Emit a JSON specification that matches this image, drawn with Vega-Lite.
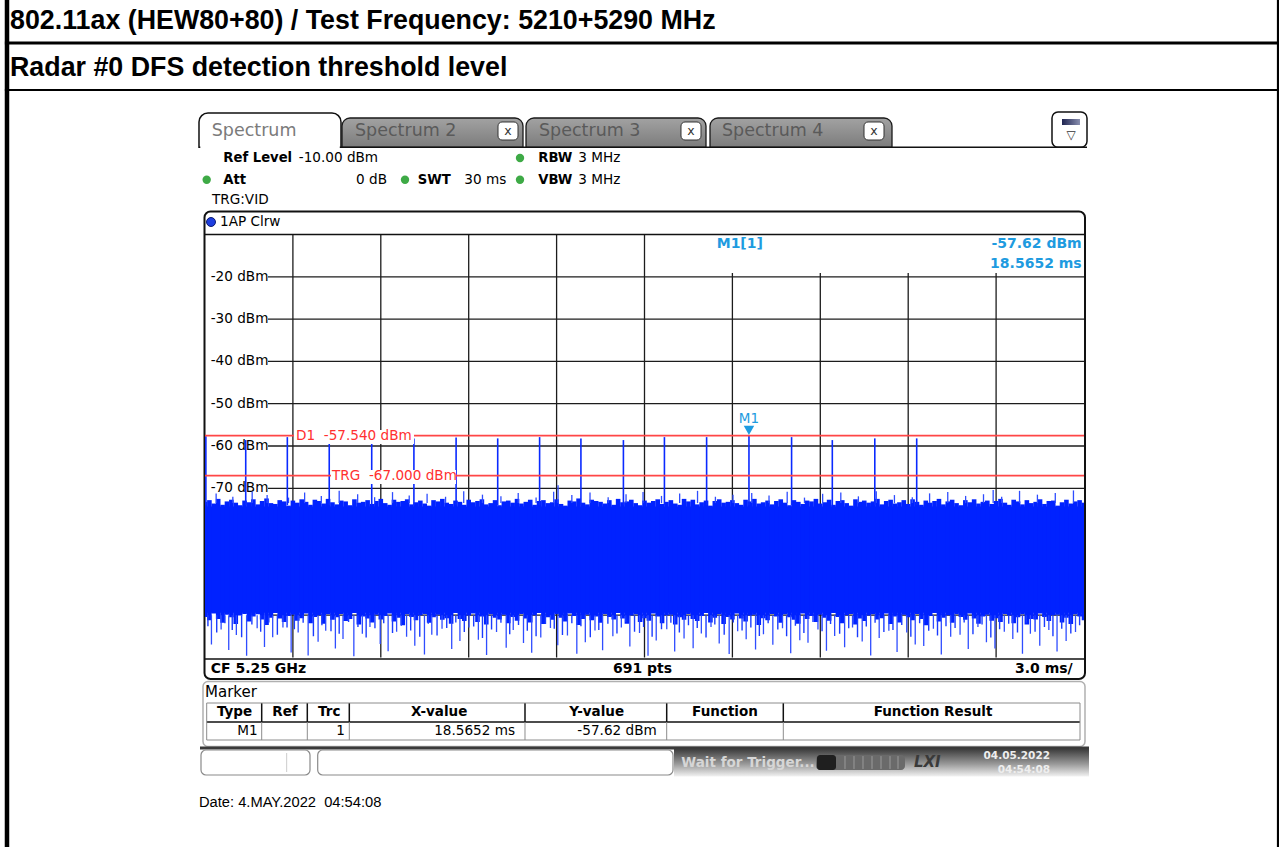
{
"$schema":"https://vega.github.io/schema/vega-lite/v6.json",
"width":879,"height":423,
"autosize":{"type":"none"},
"padding":{"left":205,"top":234.5,"right":195,"bottom":189.5},
"background":"white",
"config":{"view":{"stroke":null}},
"encoding":{
 "x":{"field":"t","type":"quantitative","scale":{"domain":[0,30],"nice":false,"zero":false},"axis":null},
 "y":{"field":"dbm","type":"quantitative","scale":{"domain":[-110,-10],"nice":false,"zero":false},"axis":null}
},
"datasets":{
"bord4":[{"t":-6.758,"dbm":45.44,"t2":-6.758,"dbm2":-154.8}],
"bord3":[{"t":-6.83,"dbm":35.272,"t2":36.66,"dbm2":35.272}],
"bord2":[{"t":36.621,"dbm":45.44,"t2":36.621,"dbm2":-154.8},{"t":-6.83,"dbm":24.161,"t2":36.66,"dbm2":24.161}],
"titles":[{"t":-6.655,"dbm":40.473,"label":"802.11ax (HEW80+80) / Test Frequency: 5210+5290 MHz"},{"t":-6.655,"dbm":29.362,"label":"Radar #0 DFS detection threshold level"}],
"greyTabs":[{"t":4.6758,"t2":10.8532,"dbm":17.541,"dbm2":10.615},{"t":10.9556,"t2":17.099,"dbm":17.541,"dbm2":10.615},{"t":17.2355,"t2":23.4471,"dbm":17.541,"dbm2":10.615}],
"activeTab":[{"t":-0.2048,"t2":4.6416,"dbm":18.723,"dbm2":10.615}],
"activeCover":[{"t":-0.16,"t2":4.6,"dbm":10.95,"dbm2":10.0}],
"closeBtns":[{"t":10.0,"t2":10.6826,"dbm":16.596,"dbm2":12.34},{"t":16.2457,"t2":16.9283,"dbm":16.596,"dbm2":12.34},{"t":22.4915,"t2":23.1741,"dbm":16.596,"dbm2":12.34}],
"closeX":[{"t":10.3413,"dbm":14.586,"label":"x"},{"t":16.587,"dbm":14.586,"label":"x"},{"t":22.8328,"dbm":14.586,"label":"x"}],
"iconBtn":[{"t":28.9078,"t2":30.1024,"dbm":18.96,"dbm2":10.615}],
"iconInner":[{"t":29.249,"t2":29.863,"dbm":17.305,"dbm2":15.887}],
"iconTri":[{"t":29.556,"dbm":13.5,"label":"▽"}],
"tabActiveText":[{"t":0.2287,"dbm":14.397,"label":"Spectrum"}],
"tabGreyText":[{"t":5.1195,"dbm":14.397,"label":"Spectrum 2"},{"t":11.3993,"dbm":14.397,"label":"Spectrum 3"},{"t":17.6451,"dbm":14.397,"label":"Spectrum 4"}],
"dots":[{"t":0.058,"dbm":2.955},{"t":6.8259,"dbm":2.955},{"t":10.7509,"dbm":8.085},{"t":10.7509,"dbm":2.955}],
"boldLeft":[{"t":0.6246,"dbm":8.085,"label":"Ref Level"},{"t":11.3754,"dbm":8.085,"label":"RBW"},{"t":0.6246,"dbm":2.955,"label":"Att"},{"t":7.2594,"dbm":2.955,"label":"SWT"},{"t":11.3754,"dbm":2.955,"label":"VBW"}],
"normLeft":[{"t":3.2,"dbm":8.085,"label":"-10.00 dBm"},{"t":12.7406,"dbm":8.085,"label":"3 MHz"},{"t":8.8498,"dbm":2.955,"label":"30 ms"},{"t":12.7406,"dbm":2.955,"label":"3 MHz"},{"t":0.2389,"dbm":-1.773,"label":"TRG:VID"},{"t":0.512,"dbm":-7.045,"label":"1AP Clrw"},{"t":0.1945,"dbm":-20,"label":"-20 dBm"},{"t":0.1945,"dbm":-30,"label":"-30 dBm"},{"t":0.1945,"dbm":-40,"label":"-40 dBm"},{"t":0.1945,"dbm":-50,"label":"-50 dBm"},{"t":0.1945,"dbm":-60,"label":"-60 dBm"},{"t":0.1945,"dbm":-70,"label":"-70 dBm"}],
"normRight":[{"t":6.2116,"dbm":2.955,"label":"0 dB"}],
"frame":[{"t":-0.017,"t2":30.034,"dbm":-4.563,"dbm2":-115.083}],
"hdrDot":[{"t":0.2048,"dbm":-7.045}],
"grid":[{"t":3,"dbm":-110,"t2":3,"dbm2":-10},{"t":6,"dbm":-110,"t2":6,"dbm2":-10},{"t":9,"dbm":-110,"t2":9,"dbm2":-10},{"t":12,"dbm":-110,"t2":12,"dbm2":-10},{"t":15,"dbm":-110,"t2":15,"dbm2":-10},{"t":18,"dbm":-110,"t2":18,"dbm2":-19.1},{"t":21,"dbm":-110,"t2":21,"dbm2":-19.1},{"t":24,"dbm":-110,"t2":24,"dbm2":-19.1},{"t":27,"dbm":-110,"t2":27,"dbm2":-19.1},
{"t":2.15,"dbm":-20,"t2":30,"dbm2":-20},{"t":2.15,"dbm":-30,"t2":30,"dbm2":-30},{"t":2.15,"dbm":-40,"t2":30,"dbm2":-40},{"t":2.15,"dbm":-50,"t2":30,"dbm2":-50},{"t":2.15,"dbm":-60,"t2":30,"dbm2":-60},{"t":2.15,"dbm":-70,"t2":30,"dbm2":-70},{"t":2.15,"dbm":-80,"t2":30,"dbm2":-80},{"t":2.15,"dbm":-90,"t2":30,"dbm2":-90},{"t":2.15,"dbm":-100,"t2":30,"dbm2":-100}],
"core":[{"t":0,"t2":30,"dbm":-74.3,"dbm2":-99.4}],
"cols":[
{"t":0,"dbm":-73.2,"dbm2":-100.4},{"t":0.15,"dbm":-72.8,"dbm2":-101.2},{"t":0.3,"dbm":-73.6,"dbm2":-99.6},{"t":0.45,"dbm":-72.5,"dbm2":-100.9},{"t":0.6,"dbm":-73.9,"dbm2":-101.8},{"t":0.75,"dbm":-73.1,"dbm2":-99.9},{"t":0.9,"dbm":-72.7,"dbm2":-100.5},{"t":1.05,"dbm":-73.4,"dbm2":-102.1},{"t":1.2,"dbm":-74.0,"dbm2":-100.1},{"t":1.35,"dbm":-72.9,"dbm2":-99.7},
{"t":1.5,"dbm":-73.3,"dbm2":-101.5},{"t":1.65,"dbm":-72.6,"dbm2":-100.3},{"t":1.8,"dbm":-73.8,"dbm2":-99.8},{"t":1.95,"dbm":-73.0,"dbm2":-101.0},{"t":2.1,"dbm":-72.4,"dbm2":-102.3},{"t":2.25,"dbm":-73.5,"dbm2":-100.6},{"t":2.4,"dbm":-73.7,"dbm2":-99.5},{"t":2.55,"dbm":-72.8,"dbm2":-100.8},{"t":2.7,"dbm":-73.1,"dbm2":-101.6},{"t":2.85,"dbm":-74.1,"dbm2":-100.2},
{"t":3.0,"dbm":-72.9,"dbm2":-99.9},{"t":3.15,"dbm":-73.4,"dbm2":-101.3},{"t":3.3,"dbm":-72.6,"dbm2":-100.7},{"t":3.45,"dbm":-73.2,"dbm2":-99.6},{"t":3.6,"dbm":-73.9,"dbm2":-101.9},{"t":3.75,"dbm":-72.7,"dbm2":-100.4},{"t":3.9,"dbm":-73.0,"dbm2":-100.0},{"t":4.05,"dbm":-73.6,"dbm2":-102.0},{"t":4.2,"dbm":-72.5,"dbm2":-99.8},{"t":4.35,"dbm":-73.3,"dbm2":-101.1},
{"t":4.5,"dbm":-73.8,"dbm2":-100.5},{"t":4.65,"dbm":-72.9,"dbm2":-99.7},{"t":4.8,"dbm":-73.1,"dbm2":-101.4},{"t":4.95,"dbm":-74.0,"dbm2":-100.9},{"t":5.1,"dbm":-72.6,"dbm2":-99.5},{"t":5.25,"dbm":-73.4,"dbm2":-102.2},{"t":5.4,"dbm":-73.2,"dbm2":-100.3},{"t":5.55,"dbm":-72.8,"dbm2":-100.8},{"t":5.7,"dbm":-73.7,"dbm2":-101.7},{"t":5.85,"dbm":-73.0,"dbm2":-99.9},
{"t":6.0,"dbm":-72.5,"dbm2":-101.0},{"t":6.15,"dbm":-73.5,"dbm2":-100.2},{"t":6.3,"dbm":-73.9,"dbm2":-99.6},{"t":6.45,"dbm":-72.7,"dbm2":-101.5},{"t":6.6,"dbm":-73.2,"dbm2":-100.6},{"t":6.75,"dbm":-73.0,"dbm2":-102.4},{"t":6.9,"dbm":-72.6,"dbm2":-99.8},{"t":7.05,"dbm":-73.8,"dbm2":-100.4},{"t":7.2,"dbm":-73.3,"dbm2":-101.2},{"t":7.35,"dbm":-72.9,"dbm2":-100.0},
{"t":7.5,"dbm":-73.6,"dbm2":-99.7},{"t":7.65,"dbm":-74.1,"dbm2":-101.8},{"t":7.8,"dbm":-72.8,"dbm2":-100.5},{"t":7.95,"dbm":-73.1,"dbm2":-99.9},{"t":8.1,"dbm":-72.5,"dbm2":-101.1},{"t":8.25,"dbm":-73.4,"dbm2":-100.7},{"t":8.4,"dbm":-73.7,"dbm2":-102.0},{"t":8.55,"dbm":-72.9,"dbm2":-99.5},{"t":8.7,"dbm":-73.2,"dbm2":-100.9},{"t":8.85,"dbm":-73.9,"dbm2":-101.4},
{"t":9.0,"dbm":-72.7,"dbm2":-100.1},{"t":9.15,"dbm":-73.3,"dbm2":-99.6},{"t":9.3,"dbm":-73.0,"dbm2":-101.6},{"t":9.45,"dbm":-72.6,"dbm2":-100.3},{"t":9.6,"dbm":-73.8,"dbm2":-102.2},{"t":9.75,"dbm":-73.5,"dbm2":-99.8},{"t":9.9,"dbm":-72.8,"dbm2":-100.6},{"t":10.05,"dbm":-74.0,"dbm2":-101.0},{"t":10.2,"dbm":-73.1,"dbm2":-99.9},{"t":10.35,"dbm":-72.9,"dbm2":-101.9},
{"t":10.5,"dbm":-73.4,"dbm2":-100.4},{"t":10.65,"dbm":-72.5,"dbm2":-101.3},{"t":10.8,"dbm":-73.6,"dbm2":-99.7},{"t":10.95,"dbm":-73.2,"dbm2":-100.8},{"t":11.1,"dbm":-72.7,"dbm2":-101.7},{"t":11.25,"dbm":-73.9,"dbm2":-100.0},{"t":11.4,"dbm":-73.0,"dbm2":-99.5},{"t":11.55,"dbm":-72.8,"dbm2":-102.1},{"t":11.7,"dbm":-73.5,"dbm2":-100.5},{"t":11.85,"dbm":-73.3,"dbm2":-101.1},
{"t":12.0,"dbm":-72.6,"dbm2":-99.8},{"t":12.15,"dbm":-73.7,"dbm2":-100.6},{"t":12.3,"dbm":-74.1,"dbm2":-101.5},{"t":12.45,"dbm":-72.9,"dbm2":-99.6},{"t":12.6,"dbm":-73.1,"dbm2":-100.2},{"t":12.75,"dbm":-72.4,"dbm2":-102.3},{"t":12.9,"dbm":-73.4,"dbm2":-100.9},{"t":13.05,"dbm":-73.8,"dbm2":-99.9},{"t":13.2,"dbm":-72.7,"dbm2":-101.2},{"t":13.35,"dbm":-73.0,"dbm2":-100.3},
{"t":13.5,"dbm":-73.2,"dbm2":-101.8},{"t":13.65,"dbm":-73.6,"dbm2":-99.7},{"t":13.8,"dbm":-72.8,"dbm2":-100.4},{"t":13.95,"dbm":-73.9,"dbm2":-101.0},{"t":14.1,"dbm":-72.5,"dbm2":-99.5},{"t":14.25,"dbm":-73.3,"dbm2":-100.8},{"t":14.4,"dbm":-73.1,"dbm2":-102.0},{"t":14.55,"dbm":-72.7,"dbm2":-100.1},{"t":14.7,"dbm":-73.5,"dbm2":-99.8},{"t":14.85,"dbm":-74.0,"dbm2":-101.6},
{"t":15.0,"dbm":-72.9,"dbm2":-100.7},{"t":15.15,"dbm":-73.4,"dbm2":-101.3},{"t":15.3,"dbm":-73.0,"dbm2":-99.6},{"t":15.45,"dbm":-72.6,"dbm2":-100.3},{"t":15.6,"dbm":-73.7,"dbm2":-101.9},{"t":15.75,"dbm":-73.2,"dbm2":-100.0},{"t":15.9,"dbm":-72.8,"dbm2":-99.9},{"t":16.05,"dbm":-73.6,"dbm2":-102.2},{"t":16.2,"dbm":-73.9,"dbm2":-100.5},{"t":16.35,"dbm":-72.5,"dbm2":-101.1},
{"t":16.5,"dbm":-73.1,"dbm2":-99.7},{"t":16.65,"dbm":-72.7,"dbm2":-100.9},{"t":16.8,"dbm":-73.8,"dbm2":-101.4},{"t":16.95,"dbm":-73.3,"dbm2":-100.2},{"t":17.1,"dbm":-72.9,"dbm2":-99.5},{"t":17.25,"dbm":-74.1,"dbm2":-101.7},{"t":17.4,"dbm":-73.0,"dbm2":-100.6},{"t":17.55,"dbm":-72.6,"dbm2":-99.8},{"t":17.7,"dbm":-73.4,"dbm2":-102.1},{"t":17.85,"dbm":-73.2,"dbm2":-100.4},
{"t":18.0,"dbm":-72.8,"dbm2":-101.0},{"t":18.15,"dbm":-73.5,"dbm2":-99.6},{"t":18.3,"dbm":-73.9,"dbm2":-100.8},{"t":18.45,"dbm":-72.7,"dbm2":-101.5},{"t":18.6,"dbm":-73.1,"dbm2":-100.1},{"t":18.75,"dbm":-72.5,"dbm2":-99.9},{"t":18.9,"dbm":-73.6,"dbm2":-102.3},{"t":19.05,"dbm":-73.3,"dbm2":-100.7},{"t":19.2,"dbm":-72.9,"dbm2":-101.2},{"t":19.35,"dbm":-73.8,"dbm2":-99.7},
{"t":19.5,"dbm":-73.0,"dbm2":-100.3},{"t":19.65,"dbm":-72.6,"dbm2":-101.8},{"t":19.8,"dbm":-73.4,"dbm2":-99.8},{"t":19.95,"dbm":-74.0,"dbm2":-100.5},{"t":20.1,"dbm":-72.8,"dbm2":-101.1},{"t":20.25,"dbm":-73.2,"dbm2":-102.0},{"t":20.4,"dbm":-73.7,"dbm2":-99.6},{"t":20.55,"dbm":-72.9,"dbm2":-100.9},{"t":20.7,"dbm":-73.1,"dbm2":-100.2},{"t":20.85,"dbm":-72.5,"dbm2":-101.6},
{"t":21.0,"dbm":-73.6,"dbm2":-99.9},{"t":21.15,"dbm":-73.3,"dbm2":-100.6},{"t":21.3,"dbm":-72.7,"dbm2":-101.3},{"t":21.45,"dbm":-73.9,"dbm2":-99.5},{"t":21.6,"dbm":-73.0,"dbm2":-100.4},{"t":21.75,"dbm":-72.8,"dbm2":-101.9},{"t":21.9,"dbm":-73.5,"dbm2":-100.0},{"t":22.05,"dbm":-74.1,"dbm2":-99.7},{"t":22.2,"dbm":-72.6,"dbm2":-102.2},{"t":22.35,"dbm":-73.2,"dbm2":-100.8},
{"t":22.5,"dbm":-72.9,"dbm2":-101.4},{"t":22.65,"dbm":-73.4,"dbm2":-100.1},{"t":22.8,"dbm":-73.1,"dbm2":-99.8},{"t":22.95,"dbm":-72.5,"dbm2":-101.0},{"t":23.1,"dbm":-73.8,"dbm2":-100.7},{"t":23.25,"dbm":-73.0,"dbm2":-99.6},{"t":23.4,"dbm":-72.7,"dbm2":-102.1},{"t":23.55,"dbm":-73.6,"dbm2":-100.3},{"t":23.7,"dbm":-73.3,"dbm2":-101.7},{"t":23.85,"dbm":-72.8,"dbm2":-99.9},
{"t":24.0,"dbm":-73.7,"dbm2":-100.5},{"t":24.15,"dbm":-72.6,"dbm2":-101.2},{"t":24.3,"dbm":-73.2,"dbm2":-99.7},{"t":24.45,"dbm":-73.9,"dbm2":-100.9},{"t":24.6,"dbm":-72.9,"dbm2":-102.4},{"t":24.75,"dbm":-73.4,"dbm2":-100.2},{"t":24.9,"dbm":-73.0,"dbm2":-99.5},{"t":25.05,"dbm":-72.5,"dbm2":-101.5},{"t":25.2,"dbm":-73.8,"dbm2":-100.6},{"t":25.35,"dbm":-73.1,"dbm2":-100.0},
{"t":25.5,"dbm":-72.7,"dbm2":-101.8},{"t":25.65,"dbm":-73.5,"dbm2":-99.8},{"t":25.8,"dbm":-74.0,"dbm2":-100.4},{"t":25.95,"dbm":-72.8,"dbm2":-101.1},{"t":26.1,"dbm":-73.3,"dbm2":-99.6},{"t":26.25,"dbm":-72.6,"dbm2":-100.8},{"t":26.4,"dbm":-73.6,"dbm2":-102.0},{"t":26.55,"dbm":-73.2,"dbm2":-100.3},{"t":26.7,"dbm":-72.9,"dbm2":-99.9},{"t":26.85,"dbm":-73.7,"dbm2":-101.3},
{"t":27.0,"dbm":-73.0,"dbm2":-100.7},{"t":27.15,"dbm":-72.5,"dbm2":-101.6},{"t":27.3,"dbm":-73.4,"dbm2":-99.7},{"t":27.45,"dbm":-73.9,"dbm2":-100.1},{"t":27.6,"dbm":-72.7,"dbm2":-101.9},{"t":27.75,"dbm":-73.1,"dbm2":-100.5},{"t":27.9,"dbm":-73.8,"dbm2":-99.8},{"t":28.05,"dbm":-72.8,"dbm2":-102.2},{"t":28.2,"dbm":-73.5,"dbm2":-100.9},{"t":28.35,"dbm":-73.2,"dbm2":-101.0},
{"t":28.5,"dbm":-72.6,"dbm2":-99.6},{"t":28.65,"dbm":-73.7,"dbm2":-100.4},{"t":28.8,"dbm":-73.0,"dbm2":-101.4},{"t":28.95,"dbm":-72.9,"dbm2":-100.0},{"t":29.1,"dbm":-74.1,"dbm2":-99.9},{"t":29.25,"dbm":-73.3,"dbm2":-101.7},{"t":29.4,"dbm":-72.7,"dbm2":-100.6},{"t":29.55,"dbm":-73.6,"dbm2":-102.1},{"t":29.7,"dbm":-73.1,"dbm2":-99.8},{"t":29.85,"dbm":-72.8,"dbm2":-100.3},
{"t":30.0,"dbm":-73.4,"dbm2":-101.2}],
"deep":[
{"t":0.22,"dbm":-106.9},{"t":0.55,"dbm":-103.4},{"t":0.81,"dbm":-108.2},{"t":1.07,"dbm":-104.7},{"t":1.42,"dbm":-109.6},{"t":1.78,"dbm":-103.1},{"t":2.03,"dbm":-107.5},{"t":2.31,"dbm":-105.2},{"t":2.66,"dbm":-102.9},{"t":2.94,"dbm":-108.8},
{"t":3.18,"dbm":-104.1},{"t":3.52,"dbm":-109.5},{"t":3.86,"dbm":-106.3},{"t":4.12,"dbm":-103.7},{"t":4.45,"dbm":-107.9},{"t":4.71,"dbm":-105.6},{"t":5.08,"dbm":-109.7},{"t":5.37,"dbm":-104.4},{"t":5.63,"dbm":-102.8},{"t":5.98,"dbm":-106.8},
{"t":6.25,"dbm":-108.5},{"t":6.54,"dbm":-103.9},{"t":6.88,"dbm":-105.1},{"t":7.16,"dbm":-107.2},{"t":7.49,"dbm":-109.3},{"t":7.74,"dbm":-104.6},{"t":8.09,"dbm":-103.2},{"t":8.42,"dbm":-108.0},{"t":8.7,"dbm":-106.1},{"t":9.01,"dbm":-102.9},
{"t":9.33,"dbm":-105.8},{"t":9.61,"dbm":-109.4},{"t":9.95,"dbm":-104.0},{"t":10.28,"dbm":-107.7},{"t":10.52,"dbm":-103.5},{"t":10.87,"dbm":-106.6},{"t":11.15,"dbm":-108.9},{"t":11.46,"dbm":-105.3},{"t":11.79,"dbm":-103.0},{"t":12.04,"dbm":-107.1},
{"t":12.37,"dbm":-104.8},{"t":12.69,"dbm":-109.1},{"t":12.98,"dbm":-106.4},{"t":13.31,"dbm":-103.6},{"t":13.57,"dbm":-108.3},{"t":13.92,"dbm":-105.0},{"t":14.21,"dbm":-102.9},{"t":14.5,"dbm":-107.4},{"t":14.83,"dbm":-104.2},{"t":15.12,"dbm":-109.6},
{"t":15.4,"dbm":-106.0},{"t":15.76,"dbm":-103.3},{"t":16.03,"dbm":-108.6},{"t":16.35,"dbm":-105.5},{"t":16.66,"dbm":-107.8},{"t":16.94,"dbm":-104.3},{"t":17.27,"dbm":-102.8},{"t":17.55,"dbm":-106.7},{"t":17.89,"dbm":-109.2},{"t":18.18,"dbm":-103.8},
{"t":18.47,"dbm":-105.7},{"t":18.79,"dbm":-108.1},{"t":19.06,"dbm":-104.5},{"t":19.38,"dbm":-107.0},{"t":19.71,"dbm":-103.1},{"t":19.99,"dbm":-109.0},{"t":20.3,"dbm":-105.9},{"t":20.58,"dbm":-106.5},{"t":20.92,"dbm":-103.4},{"t":21.21,"dbm":-108.4},
{"t":21.49,"dbm":-104.9},{"t":21.83,"dbm":-107.6},{"t":22.1,"dbm":-102.9},{"t":22.43,"dbm":-106.2},{"t":22.72,"dbm":-109.5},{"t":23.01,"dbm":-105.4},{"t":23.34,"dbm":-103.7},{"t":23.62,"dbm":-108.7},{"t":23.95,"dbm":-104.1},{"t":24.24,"dbm":-106.9},
{"t":24.53,"dbm":-107.3},{"t":24.86,"dbm":-103.2},{"t":25.13,"dbm":-109.3},{"t":25.45,"dbm":-105.1},{"t":25.77,"dbm":-104.6},{"t":26.05,"dbm":-108.0},{"t":26.38,"dbm":-102.8},{"t":26.67,"dbm":-106.4},{"t":26.96,"dbm":-107.9},{"t":27.28,"dbm":-103.9},
{"t":27.57,"dbm":-105.6},{"t":27.9,"dbm":-109.1},{"t":28.17,"dbm":-104.4},{"t":28.49,"dbm":-107.2},{"t":28.8,"dbm":-103.5},{"t":29.08,"dbm":-108.6},{"t":29.39,"dbm":-106.1},{"t":29.71,"dbm":-104.0}],
"mid":[
{"t":0.1,"dbm":-102.6},{"t":0.4,"dbm":-104.1},{"t":0.68,"dbm":-101.9},{"t":0.93,"dbm":-103.5},{"t":1.25,"dbm":-105.2},{"t":1.6,"dbm":-102.2},{"t":1.9,"dbm":-103.9},{"t":2.18,"dbm":-101.7},{"t":2.47,"dbm":-104.6},{"t":2.8,"dbm":-102.9},
{"t":3.05,"dbm":-103.3},{"t":3.35,"dbm":-101.8},{"t":3.7,"dbm":-105.0},{"t":3.99,"dbm":-102.4},{"t":4.3,"dbm":-103.8},{"t":4.58,"dbm":-104.4},{"t":4.9,"dbm":-101.6},{"t":5.22,"dbm":-102.8},{"t":5.5,"dbm":-105.3},{"t":5.8,"dbm":-103.1},
{"t":6.1,"dbm":-101.9},{"t":6.4,"dbm":-104.2},{"t":6.7,"dbm":-102.5},{"t":7.02,"dbm":-103.6},{"t":7.33,"dbm":-105.1},{"t":7.62,"dbm":-102.0},{"t":7.92,"dbm":-104.8},{"t":8.25,"dbm":-103.0},{"t":8.56,"dbm":-101.7},{"t":8.85,"dbm":-104.0},
{"t":9.17,"dbm":-102.7},{"t":9.47,"dbm":-105.4},{"t":9.78,"dbm":-103.4},{"t":10.1,"dbm":-101.8},{"t":10.4,"dbm":-104.5},{"t":10.7,"dbm":-102.3},{"t":11.0,"dbm":-103.7},{"t":11.3,"dbm":-105.0},{"t":11.62,"dbm":-102.1},{"t":11.92,"dbm":-103.2},
{"t":12.2,"dbm":-104.7},{"t":12.52,"dbm":-101.9},{"t":12.83,"dbm":-102.6},{"t":13.15,"dbm":-105.2},{"t":13.44,"dbm":-103.5},{"t":13.75,"dbm":-102.0},{"t":14.06,"dbm":-104.3},{"t":14.36,"dbm":-101.6},{"t":14.66,"dbm":-103.9},{"t":14.97,"dbm":-102.8},
{"t":15.26,"dbm":-105.1},{"t":15.58,"dbm":-103.3},{"t":15.9,"dbm":-101.8},{"t":16.19,"dbm":-104.1},{"t":16.5,"dbm":-102.4},{"t":16.8,"dbm":-103.0},{"t":17.1,"dbm":-105.3},{"t":17.4,"dbm":-102.2},{"t":17.72,"dbm":-104.6},{"t":18.03,"dbm":-101.7},
{"t":18.33,"dbm":-103.6},{"t":18.63,"dbm":-102.9},{"t":18.92,"dbm":-104.9},{"t":19.22,"dbm":-101.9},{"t":19.55,"dbm":-103.4},{"t":19.85,"dbm":-105.0},{"t":20.15,"dbm":-102.5},{"t":20.44,"dbm":-104.2},{"t":20.75,"dbm":-101.6},{"t":21.06,"dbm":-103.8},
{"t":21.35,"dbm":-102.1},{"t":21.66,"dbm":-104.4},{"t":21.97,"dbm":-103.1},{"t":22.27,"dbm":-105.2},{"t":22.57,"dbm":-102.7},{"t":22.87,"dbm":-101.8},{"t":23.17,"dbm":-104.0},{"t":23.48,"dbm":-103.5},{"t":23.78,"dbm":-102.3},{"t":24.09,"dbm":-105.1},
{"t":24.39,"dbm":-101.9},{"t":24.7,"dbm":-103.7},{"t":25.0,"dbm":-104.8},{"t":25.29,"dbm":-102.6},{"t":25.6,"dbm":-103.0},{"t":25.91,"dbm":-101.7},{"t":26.21,"dbm":-104.5},{"t":26.52,"dbm":-102.2},{"t":26.82,"dbm":-105.3},{"t":27.12,"dbm":-103.3},
{"t":27.43,"dbm":-102.0},{"t":27.73,"dbm":-104.1},{"t":28.03,"dbm":-101.8},{"t":28.33,"dbm":-103.9},{"t":28.65,"dbm":-102.8},{"t":28.94,"dbm":-105.0},{"t":29.24,"dbm":-103.2},{"t":29.55,"dbm":-104.3},{"t":29.85,"dbm":-102.4}],
"up":[
{"t":0.38,"dbm":-71.2},{"t":0.95,"dbm":-72.0},{"t":1.61,"dbm":-70.8},{"t":2.12,"dbm":-71.6},{"t":2.85,"dbm":-72.2},{"t":3.4,"dbm":-71.0},{"t":3.97,"dbm":-71.8},{"t":4.58,"dbm":-70.6},{"t":5.21,"dbm":-71.4},{"t":5.79,"dbm":-72.1},
{"t":6.4,"dbm":-70.9},{"t":6.97,"dbm":-71.7},{"t":7.58,"dbm":-71.3},{"t":8.21,"dbm":-72.0},{"t":8.83,"dbm":-70.7},{"t":9.47,"dbm":-71.5},{"t":10.1,"dbm":-71.9},{"t":10.69,"dbm":-71.1},{"t":11.3,"dbm":-72.2},{"t":11.9,"dbm":-70.8},
{"t":12.05,"dbm":-69.3},{"t":12.52,"dbm":-71.6},{"t":13.14,"dbm":-71.0},{"t":13.76,"dbm":-72.1},{"t":14.37,"dbm":-71.4},{"t":14.95,"dbm":-70.9},{"t":15.58,"dbm":-71.8},{"t":16.2,"dbm":-71.2},{"t":16.81,"dbm":-70.6},{"t":17.42,"dbm":-72.0},
{"t":18.02,"dbm":-71.5},{"t":18.66,"dbm":-71.1},{"t":19.25,"dbm":-71.7},{"t":19.87,"dbm":-70.8},{"t":20.46,"dbm":-72.2},{"t":21.08,"dbm":-71.3},{"t":21.7,"dbm":-71.0},{"t":22.3,"dbm":-71.9},{"t":22.91,"dbm":-70.7},{"t":23.53,"dbm":-71.6},
{"t":24.14,"dbm":-72.1},{"t":24.73,"dbm":-71.2},{"t":25.35,"dbm":-70.9},{"t":25.96,"dbm":-71.8},{"t":26.57,"dbm":-71.4},{"t":26.9,"dbm":-70.4},{"t":27.19,"dbm":-72.0},{"t":27.8,"dbm":-70.6},{"t":28.41,"dbm":-71.5},{"t":29.02,"dbm":-71.1},{"t":29.64,"dbm":-70.5}],
"pulses":[
{"t":0.03,"dbm":-57.7},{"t":1.39,"dbm":-58.6},{"t":2.81,"dbm":-57.9},{"t":4.24,"dbm":-59.4},{"t":5.69,"dbm":-59.4},{"t":7.13,"dbm":-58.2},{"t":8.57,"dbm":-58.0},{"t":9.99,"dbm":-58.2},{"t":11.42,"dbm":-57.9},{"t":12.83,"dbm":-58.2},
{"t":14.28,"dbm":-58.6},{"t":15.68,"dbm":-57.9},{"t":17.12,"dbm":-57.9},{"t":18.5652,"dbm":-57.62},{"t":20.02,"dbm":-57.9},{"t":21.41,"dbm":-58.6},{"t":22.86,"dbm":-58.2},{"t":24.29,"dbm":-58.2}],
"redLines":[{"t":0,"dbm":-57.54,"t2":30,"dbm2":-57.54},{"t":0,"dbm":-67,"t2":30,"dbm2":-67}],
"whiteBoxes":[{"t":3.0375,"t2":7.1331,"dbm":-56.217,"dbm2":-59.527},{"t":4.3003,"t2":8.5666,"dbm":-65.674,"dbm2":-68.983}],
"redTexts":[{"t":3.1058,"dbm":-57.6,"label":"D1\u00a0 -57.540 dBm"},{"t":4.3345,"dbm":-67.05,"label":"TRG\u00a0 -67.000 dBm"}],
"mTri":[{"t":18.5652,"dbm":-56.3}],
"mLabel":[{"t":18.5652,"dbm":-53.735,"label":"M1"}],
"mInfoLeft":[{"t":17.464,"dbm":-12.246,"label":"M1[1]"}],
"mInfoRight":[{"t":29.921,"dbm":-12.246,"label":"-57.62 dBm"},{"t":29.921,"dbm":-16.974,"label":"18.5652 ms"}],
"black15":[{"t":4.6416,"dbm":10.615,"t2":30.1024,"dbm2":10.615},{"t":-0.017,"dbm":-10,"t2":30.034,"dbm2":-10},{"t":-0.017,"dbm":-110.355,"t2":30.034,"dbm2":-110.355},{"t":0.058,"dbm":-125.248,"t2":29.8635,"dbm2":-125.248},
{"t":1.935,"dbm":-120.757,"t2":1.935,"dbm2":-125.248},{"t":3.4915,"dbm":-120.757,"t2":3.4915,"dbm2":-125.248},{"t":4.9249,"dbm":-120.757,"t2":4.9249,"dbm2":-125.248},{"t":10.9215,"dbm":-120.757,"t2":10.9215,"dbm2":-125.248},{"t":15.7577,"dbm":-120.757,"t2":15.7577,"dbm2":-125.248},{"t":19.7372,"dbm":-120.757,"t2":19.7372,"dbm2":-125.248}],
"footLeft":[{"t":0.1945,"dbm":-112.719,"label":"CF 5.25 GHz"}],
"footCenter":[{"t":14.932,"dbm":-112.719,"label":"691 pts"}],
"footRight":[{"t":29.615,"dbm":-112.719,"label":"3.0 ms/"}],
"mkBox":[{"t":-0.0683,"t2":30.034,"dbm":-115.674,"dbm2":-131.04}],
"markerTitle":[{"t":0.0,"dbm":-118.156,"label":"Marker"}],
"greyLines":[{"t":0.058,"dbm":-120.757,"t2":29.8635,"dbm2":-120.757},{"t":0.058,"dbm":-129.504,"t2":29.8635,"dbm2":-129.504},{"t":0.058,"dbm":-120.757,"t2":0.058,"dbm2":-129.504},{"t":29.8635,"dbm":-120.757,"t2":29.8635,"dbm2":-129.504},
{"t":1.935,"dbm":-125.248,"t2":1.935,"dbm2":-129.504},{"t":3.4915,"dbm":-125.248,"t2":3.4915,"dbm2":-129.504},{"t":4.9249,"dbm":-125.248,"t2":4.9249,"dbm2":-129.504},{"t":10.9215,"dbm":-125.248,"t2":10.9215,"dbm2":-129.504},{"t":15.7577,"dbm":-125.248,"t2":15.7577,"dbm2":-129.504},{"t":19.7372,"dbm":-125.248,"t2":19.7372,"dbm2":-129.504}],
"th":[{"t":1.0068,"dbm":-123.0,"label":"Type"},{"t":2.7304,"dbm":-123.0,"label":"Ref"},{"t":4.2389,"dbm":-123.0,"label":"Trc"},{"t":7.9932,"dbm":-123.0,"label":"X-value"},{"t":13.3686,"dbm":-123.0,"label":"Y-value"},{"t":17.7474,"dbm":-123.0,"label":"Function"},{"t":24.8464,"dbm":-123.0,"label":"Function Result"}],
"td":[{"t":1.7986,"dbm":-127.376,"label":"M1"},{"t":4.7782,"dbm":-127.376,"label":"1"},{"t":10.5802,"dbm":-127.376,"label":"18.5652 ms"},{"t":15.4164,"dbm":-127.376,"label":"-57.62 dBm"}],
"darkLine":[{"t":-0.1706,"t2":30.1706,"dbm":-131.04,"dbm2":-131.749}],
"statusGrad":[{"t":16.0068,"t2":30.1706,"dbm":-131.631,"dbm2":-138.132}],
"statusBoxes":[{"t":-0.1365,"t2":3.5836,"dbm":-131.868,"dbm2":-137.778},{"t":3.8464,"t2":15.9727,"dbm":-131.868,"dbm2":-137.778}],
"statusDivider":[{"t":2.7872,"dbm":-132.577,"t2":2.7872,"dbm2":-137.069}],
"progress":[{"t":20.853,"t2":23.8908,"dbm":-133.05,"dbm2":-136.596}],
"progressDark":[{"t":20.8874,"t2":21.5358,"dbm":-133.05,"dbm2":-136.596}],
"progressSeg":[{"t":21.843,"dbm":-133.3,"t2":21.843,"dbm2":-136.35},{"t":22.15,"dbm":-133.3,"t2":22.15,"dbm2":-136.35},{"t":22.457,"dbm":-133.3,"t2":22.457,"dbm2":-136.35},{"t":22.765,"dbm":-133.3,"t2":22.765,"dbm2":-136.35},{"t":23.072,"dbm":-133.3,"t2":23.072,"dbm2":-136.35},{"t":23.379,"dbm":-133.3,"t2":23.379,"dbm2":-136.35},{"t":23.652,"dbm":-133.3,"t2":23.652,"dbm2":-136.35}],
"waitText":[{"t":16.2571,"dbm":-134.87,"label":"Wait for Trigger..."}],
"lxi":[{"t":24.198,"dbm":-134.704,"label":"LXI"}],
"stDate":[{"t":28.8396,"dbm":-133.404,"label":"04.05.2022"},{"t":28.8396,"dbm":-136.478,"label":"04:54:08"}],
"dateText":[{"t":-0.2048,"dbm":-144.468,"label":"Date: 4.MAY.2022\u00a0 04:54:08"}]
},
"layer":[
{"data":{"name":"bord4"},"mark":{"type":"rule","color":"#000000","strokeWidth":4.5},"encoding":{"x2":{"field":"t2"},"y2":{"field":"dbm2"}}},
{"data":{"name":"bord3"},"mark":{"type":"rule","color":"#000000","strokeWidth":3},"encoding":{"x2":{"field":"t2"},"y2":{"field":"dbm2"}}},
{"data":{"name":"bord2"},"mark":{"type":"rule","color":"#000000","strokeWidth":2.2},"encoding":{"x2":{"field":"t2"},"y2":{"field":"dbm2"}}},
{"data":{"name":"titles"},"mark":{"type":"text","align":"left","baseline":"middle","font":"Liberation Sans","fontWeight":"bold","fontSize":26.8,"color":"#000000"},"encoding":{"text":{"field":"label"}}},
{"data":{"name":"greyTabs"},"mark":{"type":"rect","fill":{"gradient":"linear","x1":0,"y1":0,"x2":0,"y2":1,"stops":[{"offset":0,"color":"#a2a2a2"},{"offset":1,"color":"#7c7c7c"}]},"stroke":"#1a1a1a","strokeWidth":1.3,"cornerRadiusTopLeft":8,"cornerRadiusTopRight":8},"encoding":{"x2":{"field":"t2"},"y2":{"field":"dbm2"}}},
{"data":{"name":"activeTab"},"mark":{"type":"rect","fill":"#ffffff","stroke":"#111111","strokeWidth":1.5,"cornerRadiusTopLeft":9,"cornerRadiusTopRight":9},"encoding":{"x2":{"field":"t2"},"y2":{"field":"dbm2"}}},
{"data":{"name":"activeCover"},"mark":{"type":"rect","fill":"#ffffff"},"encoding":{"x2":{"field":"t2"},"y2":{"field":"dbm2"}}},
{"data":{"name":"closeBtns"},"mark":{"type":"rect","fill":"#ffffff","stroke":"#333333","strokeWidth":1,"cornerRadius":4},"encoding":{"x2":{"field":"t2"},"y2":{"field":"dbm2"}}},
{"data":{"name":"iconBtn"},"mark":{"type":"rect","fill":"#ffffff","stroke":"#111111","strokeWidth":1.5,"cornerRadius":6},"encoding":{"x2":{"field":"t2"},"y2":{"field":"dbm2"}}},
{"data":{"name":"iconInner"},"mark":{"type":"rect","fill":{"gradient":"linear","x1":0,"y1":0,"x2":1,"y2":0,"stops":[{"offset":0,"color":"#1e2450"},{"offset":1,"color":"#8a90b0"}]}},"encoding":{"x2":{"field":"t2"},"y2":{"field":"dbm2"}}},
{"data":{"name":"iconTri"},"mark":{"type":"text","align":"center","baseline":"middle","font":"DejaVu Sans","fontSize":12,"color":"#333333"},"encoding":{"text":{"field":"label"}}},
{"data":{"name":"closeX"},"mark":{"type":"text","align":"center","baseline":"middle","font":"DejaVu Sans","fontSize":12.5,"color":"#333333"},"encoding":{"text":{"field":"label"}}},
{"data":{"name":"tabActiveText"},"mark":{"type":"text","align":"left","baseline":"middle","font":"DejaVu Sans","fontSize":17.5,"color":"#7b7b7b"},"encoding":{"text":{"field":"label"}}},
{"data":{"name":"tabGreyText"},"mark":{"type":"text","align":"left","baseline":"middle","font":"DejaVu Sans","fontSize":17.5,"color":"#5a5a5a"},"encoding":{"text":{"field":"label"}}},
{"data":{"name":"dots"},"mark":{"type":"point","shape":"circle","filled":true,"size":70,"color":"#3eaa46","opacity":1},"encoding":{}},
{"data":{"name":"boldLeft"},"mark":{"type":"text","align":"left","baseline":"middle","font":"DejaVu Sans","fontWeight":"bold","fontSize":13.2,"color":"#000000"},"encoding":{"text":{"field":"label"}}},
{"data":{"name":"normRight"},"mark":{"type":"text","align":"right","baseline":"middle","font":"DejaVu Sans","fontSize":13.6,"color":"#000000"},"encoding":{"text":{"field":"label"}}},
{"data":{"name":"frame"},"mark":{"type":"rect","filled":false,"color":"#111111","strokeWidth":2,"cornerRadius":6},"encoding":{"x2":{"field":"t2"},"y2":{"field":"dbm2"}}},
{"data":{"name":"hdrDot"},"mark":{"type":"point","shape":"circle","filled":true,"size":80,"color":"#1d3ee0","stroke":"#0a1a70","strokeWidth":1,"opacity":1},"encoding":{}},
{"data":{"name":"grid"},"mark":{"type":"rule","color":"#1c1c1c","strokeWidth":1.3},"encoding":{"x2":{"field":"t2"},"y2":{"field":"dbm2"}}},
{"data":{"name":"normLeft"},"mark":{"type":"text","align":"left","baseline":"middle","font":"DejaVu Sans","fontSize":13.6,"color":"#000000"},"encoding":{"text":{"field":"label"}}},
{"data":{"name":"core"},"mark":{"type":"rect","color":"#0022ff","clip":true},"encoding":{"x2":{"field":"t2"},"y2":{"field":"dbm2"}}},
{"data":{"name":"cols"},"mark":{"type":"rule","color":"#0022ff","strokeWidth":4.6,"clip":true},"encoding":{"y2":{"field":"dbm2"}}},
{"data":{"name":"mid"},"mark":{"type":"rule","color":"#1a3cff","strokeWidth":1.4,"clip":true},"encoding":{"y2":{"datum":-100}}},
{"data":{"name":"deep"},"mark":{"type":"rule","color":"#2f4dff","strokeWidth":1.3,"clip":true},"encoding":{"y2":{"datum":-100}}},
{"data":{"name":"up"},"mark":{"type":"rule","color":"#2f4dff","strokeWidth":1.3,"clip":true},"encoding":{"y2":{"datum":-73.5}}},
{"data":{"name":"pulses"},"mark":{"type":"rule","color":"#0a2aff","strokeWidth":1.6,"clip":true},"encoding":{"y2":{"datum":-74}}},
{"data":{"name":"redLines"},"mark":{"type":"rule","color":"#ff4646","strokeWidth":1.6},"encoding":{"x2":{"field":"t2"},"y2":{"field":"dbm2"}}},
{"data":{"name":"whiteBoxes"},"mark":{"type":"rect","fill":"#ffffff"},"encoding":{"x2":{"field":"t2"},"y2":{"field":"dbm2"}}},
{"data":{"name":"redTexts"},"mark":{"type":"text","align":"left","baseline":"middle","font":"DejaVu Sans","fontSize":13.6,"color":"#ff3030"},"encoding":{"text":{"field":"label"}}},
{"data":{"name":"mTri"},"mark":{"type":"point","shape":"triangle-down","filled":true,"size":110,"color":"#1e9be0","opacity":1},"encoding":{}},
{"data":{"name":"mLabel"},"mark":{"type":"text","align":"center","baseline":"middle","font":"DejaVu Sans","fontSize":13.5,"color":"#1e9be0"},"encoding":{"text":{"field":"label"}}},
{"data":{"name":"mInfoLeft"},"mark":{"type":"text","align":"left","baseline":"middle","font":"DejaVu Sans","fontWeight":"bold","fontSize":14,"color":"#1e9be0"},"encoding":{"text":{"field":"label"}}},
{"data":{"name":"mInfoRight"},"mark":{"type":"text","align":"right","baseline":"middle","font":"DejaVu Sans","fontWeight":"bold","fontSize":14,"color":"#1e9be0"},"encoding":{"text":{"field":"label"}}},
{"data":{"name":"black15"},"mark":{"type":"rule","color":"#111111","strokeWidth":1.5},"encoding":{"x2":{"field":"t2"},"y2":{"field":"dbm2"}}},
{"data":{"name":"footLeft"},"mark":{"type":"text","align":"left","baseline":"middle","font":"DejaVu Sans","fontWeight":"bold","fontSize":14,"color":"#000000"},"encoding":{"text":{"field":"label"}}},
{"data":{"name":"footCenter"},"mark":{"type":"text","align":"center","baseline":"middle","font":"DejaVu Sans","fontWeight":"bold","fontSize":14,"color":"#000000"},"encoding":{"text":{"field":"label"}}},
{"data":{"name":"footRight"},"mark":{"type":"text","align":"right","baseline":"middle","font":"DejaVu Sans","fontWeight":"bold","fontSize":14,"color":"#000000"},"encoding":{"text":{"field":"label"}}},
{"data":{"name":"mkBox"},"mark":{"type":"rect","filled":false,"color":"#b0b0b0","strokeWidth":1.5,"cornerRadius":5},"encoding":{"x2":{"field":"t2"},"y2":{"field":"dbm2"}}},
{"data":{"name":"markerTitle"},"mark":{"type":"text","align":"left","baseline":"middle","font":"DejaVu Sans","fontSize":15,"color":"#000000"},"encoding":{"text":{"field":"label"}}},
{"data":{"name":"greyLines"},"mark":{"type":"rule","color":"#8c8c8c","strokeWidth":1},"encoding":{"x2":{"field":"t2"},"y2":{"field":"dbm2"}}},
{"data":{"name":"th"},"mark":{"type":"text","align":"center","baseline":"middle","font":"DejaVu Sans","fontWeight":"bold","fontSize":13.5,"color":"#000000"},"encoding":{"text":{"field":"label"}}},
{"data":{"name":"td"},"mark":{"type":"text","align":"right","baseline":"middle","font":"DejaVu Sans","fontSize":13.6,"color":"#000000"},"encoding":{"text":{"field":"label"}}},
{"data":{"name":"darkLine"},"mark":{"type":"rect","fill":"#3a3a3a"},"encoding":{"x2":{"field":"t2"},"y2":{"field":"dbm2"}}},
{"data":{"name":"statusGrad"},"mark":{"type":"rect","fill":{"gradient":"linear","x1":0,"y1":0,"x2":0,"y2":1,"stops":[{"offset":0,"color":"#3c3c3c"},{"offset":0.55,"color":"#9a9a9a"},{"offset":1,"color":"#f2f2f2"}]}},"encoding":{"x2":{"field":"t2"},"y2":{"field":"dbm2"}}},
{"data":{"name":"statusBoxes"},"mark":{"type":"rect","fill":"#ffffff","stroke":"#8a8a8a","strokeWidth":1.2,"cornerRadius":5},"encoding":{"x2":{"field":"t2"},"y2":{"field":"dbm2"}}},
{"data":{"name":"statusDivider"},"mark":{"type":"rule","color":"#cccccc","strokeWidth":1},"encoding":{"x2":{"field":"t2"},"y2":{"field":"dbm2"}}},
{"data":{"name":"progress"},"mark":{"type":"rect","fill":"#6a6a6a","cornerRadius":4},"encoding":{"x2":{"field":"t2"},"y2":{"field":"dbm2"}}},
{"data":{"name":"progressDark"},"mark":{"type":"rect","fill":"#1f1f1f","cornerRadius":3},"encoding":{"x2":{"field":"t2"},"y2":{"field":"dbm2"}}},
{"data":{"name":"progressSeg"},"mark":{"type":"rule","color":"#9a9a9a","strokeWidth":1},"encoding":{"x2":{"field":"t2"},"y2":{"field":"dbm2"}}},
{"data":{"name":"waitText"},"mark":{"type":"text","align":"left","baseline":"middle","font":"DejaVu Sans","fontWeight":"bold","fontSize":13.5,"color":"#d6d6d6"},"encoding":{"text":{"field":"label"}}},
{"data":{"name":"lxi"},"mark":{"type":"text","align":"left","baseline":"middle","font":"DejaVu Sans","fontWeight":"bold","fontStyle":"italic","fontSize":15,"color":"#3a3a3a"},"encoding":{"text":{"field":"label"}}},
{"data":{"name":"stDate"},"mark":{"type":"text","align":"right","baseline":"middle","font":"DejaVu Sans","fontWeight":"bold","fontSize":10.5,"color":"#eeeeee"},"encoding":{"text":{"field":"label"}}},
{"data":{"name":"dateText"},"mark":{"type":"text","align":"left","baseline":"middle","font":"Liberation Sans","fontSize":14.7,"color":"#000000"},"encoding":{"text":{"field":"label"}}}
]
}
